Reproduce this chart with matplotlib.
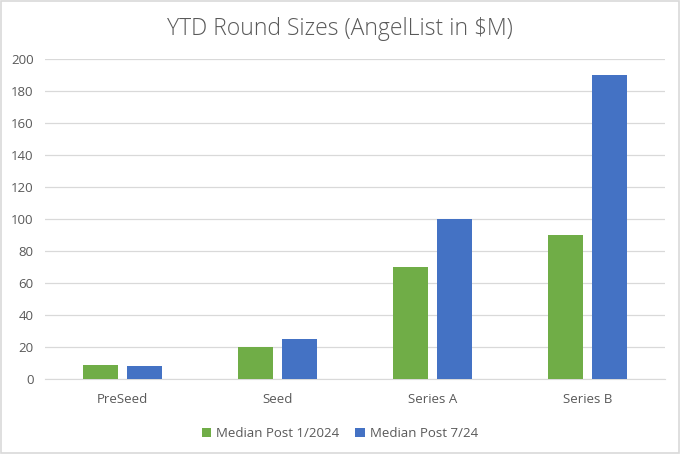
import matplotlib.pyplot as plt
import numpy as np

categories = ['PreSeed', 'Seed', 'Series A', 'Series B']
median_jan = [9, 20, 70, 90]
median_jul = [8, 25, 100, 190]
series_names = ['Median Post 1/2024', 'Median Post 7/24']

plt.rcParams['font.family'] = ['Open Sans', 'DejaVu Sans']

fig = plt.figure(figsize=(6.8, 4.54), dpi=100)
ax = fig.add_axes([0.066, 0.165, 0.912, 0.705])

x = np.arange(len(categories))
w = 0.226
gap = 0.06
ax.bar(x - (w + gap) / 2, median_jan, w, color='#70AD47', label=series_names[0], zorder=3)
ax.bar(x + (w + gap) / 2, median_jul, w, color='#4472C4', label=series_names[1], zorder=3)

ax.set_xlim(-0.5, len(categories) - 0.5)
ax.set_ylim(0, 200)
ax.set_yticks(range(0, 201, 20))
ax.set_xticks(x)
ax.set_xticklabels(categories)
ax.grid(axis='y', color='#D9D9D9', linewidth=0.9, zorder=0)
for s in ['top', 'right', 'left']:
    ax.spines[s].set_visible(False)
ax.spines['bottom'].set_color('#D9D9D9')
ax.tick_params(axis='both', length=0, colors='#595959', labelsize=9.5)
ax.tick_params(axis='x', pad=10)
ax.tick_params(axis='y', pad=8)

fig.suptitle('YTD Round Sizes (AngelList in $M)', y=0.962, fontsize=16.5,
             color='#595959', fontweight='light')

fig.legend(loc='lower center', bbox_to_anchor=(0.5, 0.005), ncol=2, frameon=False,
           fontsize=9.5, labelcolor='#595959', handlelength=0.7, handleheight=0.7,
           columnspacing=1.2, handletextpad=0.4)

fig.patches.append(plt.Rectangle((0.002, 0.002), 0.996, 0.996, transform=fig.transFigure,
                                 fill=False, edgecolor='#D9D9D9', linewidth=1.2))

fig.savefig('out.png', dpi=100)
